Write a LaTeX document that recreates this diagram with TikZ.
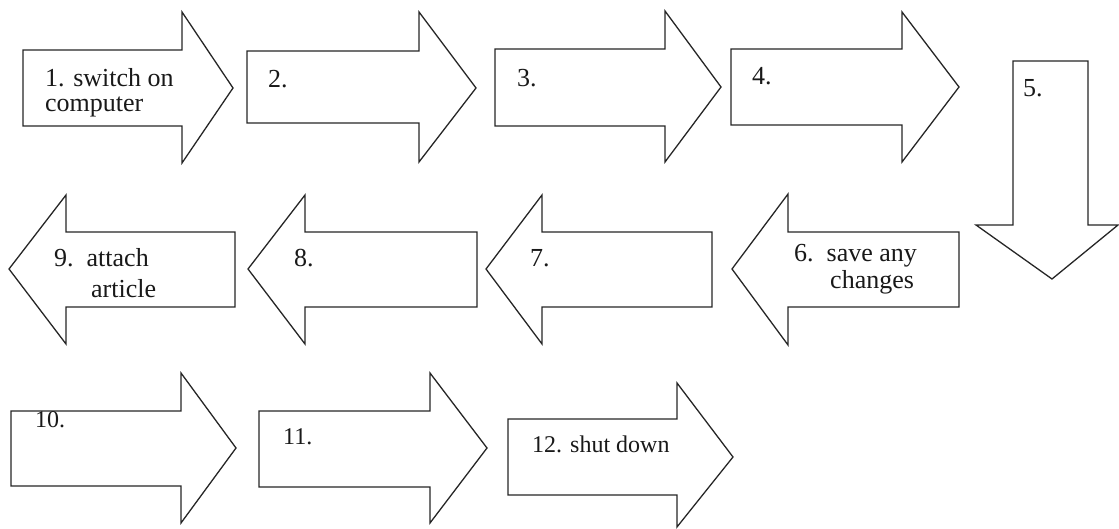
\documentclass[tikz,border=0pt]{standalone}
\usepackage{fontspec}
\setmainfont{Liberation Serif}
\begin{document}
\begin{tikzpicture}[x=1pt,y=-1pt,
  blockarrow/.style={draw=black!85,line width=1.3pt,line join=miter,fill=white},
  lbl/.style={anchor=base west,inner sep=0pt,font=\fontsize{26}{29}\selectfont,text=black!90},
  lblsmall/.style={lbl,font=\fontsize{24}{27}\selectfont}]
\useasboundingbox (0,0) rectangle (1119,529);
% row 1
\draw[blockarrow] (23,50) -- (182,50) -- (182,12) -- (233,88) -- (182,163) -- (182,126) -- (23,126) -- cycle;
\draw[blockarrow] (247,51) -- (419,51) -- (419,12) -- (476,88) -- (419,162) -- (419,123) -- (247,123) -- cycle;
\draw[blockarrow] (495,49) -- (665,49) -- (665,11) -- (721,87) -- (665,162) -- (665,126) -- (495,126) -- cycle;
\draw[blockarrow] (731,49) -- (902,49) -- (902,12) -- (959,87) -- (902,162) -- (902,125) -- (731,125) -- cycle;
\draw[blockarrow] (1013,61) -- (1088,61) -- (1088,225) -- (1118,225) -- (1052,279) -- (976,225) -- (1013,225) -- cycle;
% row 2
\draw[blockarrow] (235,232) -- (66,232) -- (66,195) -- (9,269) -- (66,344) -- (66,307) -- (235,307) -- cycle;
\draw[blockarrow] (477,232) -- (305,232) -- (305,195) -- (248,269) -- (305,344) -- (305,307) -- (477,307) -- cycle;
\draw[blockarrow] (712,232) -- (542,232) -- (542,195) -- (486,269) -- (542,344) -- (542,307) -- (712,307) -- cycle;
\draw[blockarrow] (959,232) -- (788,232) -- (788,194) -- (732,269) -- (788,345) -- (788,307) -- (959,307) -- cycle;
% row 3
\draw[blockarrow] (11,411) -- (181,411) -- (181,373) -- (236,448) -- (181,523) -- (181,486) -- (11,486) -- cycle;
\draw[blockarrow] (259,411) -- (430,411) -- (430,373) -- (487,448) -- (430,523) -- (430,487) -- (259,487) -- cycle;
\draw[blockarrow] (508,419) -- (677,419) -- (677,383) -- (733,457) -- (677,527) -- (677,495) -- (508,495) -- cycle;
% labels
\node[lbl] (t1a) at (45,87) {1. switch on};
\node[lbl] (t1b) at (45,112) {computer};
\node[lbl] (t2) at (268,88) {2.};
\node[lbl] (t3) at (517,87) {3.};
\node[lbl] (t4) at (752,85) {4.};
\node[lbl] (t5) at (1023,97) {5.};
\node[lbl] (t6a) at (794,262) {6.\ \ save any};
\node[lbl] (t6b) at (830,289) {changes};
\node[lbl] (t7) at (530,267) {7.};
\node[lbl] (t8) at (294,267) {8.};
\node[lbl] (t9a) at (54,267) {9.\ \ attach};
\node[lbl] (t9b) at (91,298) {article};
\node[lblsmall] (t10) at (35,427) {10.};
\node[lblsmall] (t11) at (283,444) {11.};
\node[lblsmall] (t12) at (532,452) {12. shut down};
\end{tikzpicture}
\end{document}
